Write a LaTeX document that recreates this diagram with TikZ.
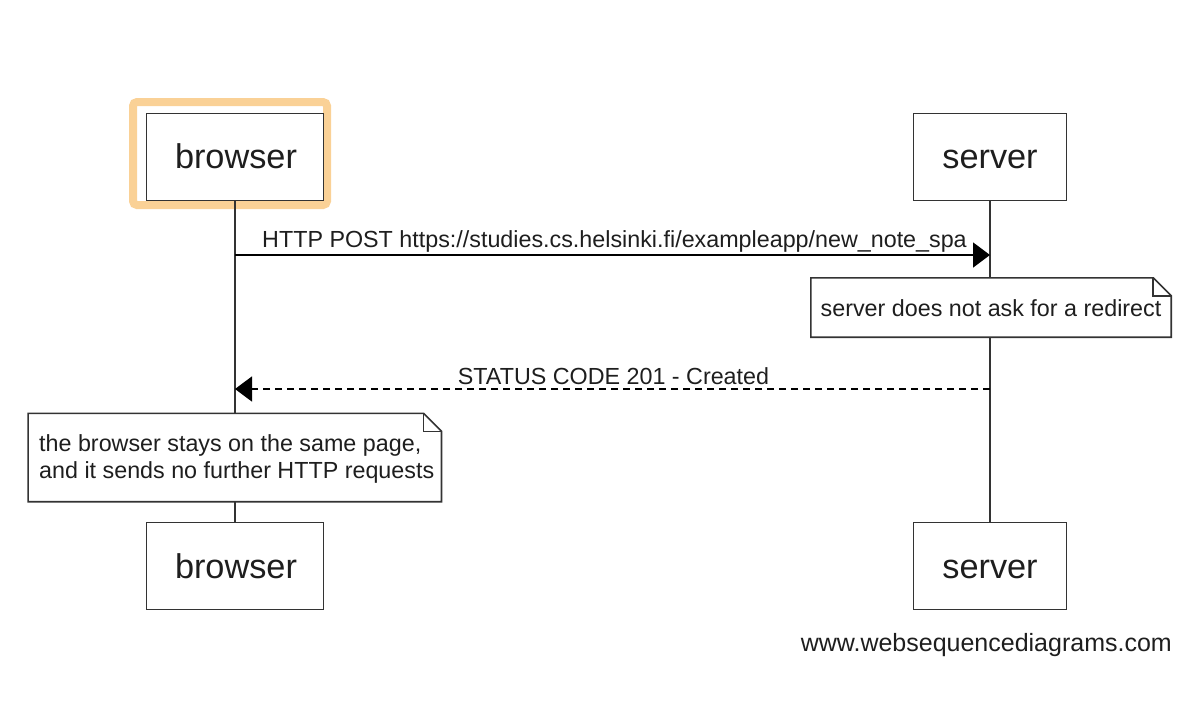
\documentclass[tikz,border=0pt]{standalone}
\usepackage{fontspec}
\setmainfont{Liberation Sans}
\usetikzlibrary{arrows.meta}
\definecolor{ln}{HTML}{333333}
\definecolor{tx}{HTML}{1E1E1E}
\definecolor{hl}{HTML}{FAD196}
\tikzset{
  actor/.style={draw=ln, line width=1.6pt, fill=white, inner sep=0pt, text=tx},
  actortext/.style={text=tx, font=\fontsize{34.3}{40}\selectfont, anchor=base, inner sep=0pt},
  lbl/.style={text=tx, font=\fontsize{23.3}{27}\selectfont, inner sep=0pt},
  life/.style={draw=ln, line width=1.6pt},
  msg/.style={draw=black, line width=1.5pt, -{Triangle[length=17pt,width=25pt]}},
  notebox/.style={inner sep=0pt},
  noteline/.style={draw=ln, line width=1.6pt, fill=white},
}
\begin{document}
\begin{tikzpicture}[x=1pt,y=-1pt]
\useasboundingbox (0,0) rectangle (1178,710);
% highlight
\draw[hl, line width=8pt, rounded corners=4pt] (133,102) rectangle (327,205);
% actor boxes
\node[actor, minimum width=177pt, minimum height=87pt] (bt) at (235,157) {};
\node[actor, minimum width=153pt, minimum height=87pt] (st) at (990,157) {};
\node[actor, minimum width=177pt, minimum height=87pt] (bb) at (235,566) {};
\node[actor, minimum width=153pt, minimum height=87pt] (sb) at (990,566) {};
\node[actortext] (btt) at (236,168) {browser};
\node[actortext] (stt) at (990,168) {server};
\node[actortext] (bbt) at (236,578) {browser};
\node[actortext] (sbt) at (990,578) {server};
% lifelines
\draw[life] (bt.south) -- (bb.north);
\draw[life] (st.south) -- (sb.north);
% message 1
\coordinate (m1a) at (235,255);
\coordinate (m1b) at (990,255);
\draw[msg] (m1a) -- (m1b);
\node[lbl, anchor=base] (m1l) at (614.5,247) {HTTP POST https://studies.cs.helsinki.fi/exampleapp/new\_note\_spa};
% note 1
\node[notebox, minimum width=360pt, minimum height=59pt] (n1) at (991,307.5) {};
\path[noteline] (n1.north west) -- ([xshift=-18pt]n1.north east) -- ([yshift=-18pt]n1.north east) -- (n1.south east) -- (n1.south west) -- cycle;
\draw[draw=ln, line width=1.6pt] ([xshift=-18pt]n1.north east) |- ([yshift=-18pt]n1.north east);
\node[lbl, anchor=base] (n1t) at (991,316) {server does not ask for a redirect};
% message 2
\coordinate (m2a) at (990,389);
\coordinate (m2b) at (235,389);
\draw[msg, dash pattern=on 7pt off 5pt] (m2a) -- (m2b);
\node[lbl, anchor=base] (m2l) at (613.5,384) {STATUS CODE 201 - Created};
% note 2
\node[notebox, minimum width=413pt, minimum height=88pt] (n2) at (234.75,457.5) {};
\path[noteline] (n2.north west) -- ([xshift=-18pt]n2.north east) -- ([yshift=-18pt]n2.north east) -- (n2.south east) -- (n2.south west) -- cycle;
\draw[draw=ln, line width=1.6pt] ([xshift=-18pt]n2.north east) |- ([yshift=-18pt]n2.north east);
\node[lbl, anchor=base west] (n2a) at (39,451) {the browser stays on the same page,};
\node[lbl, anchor=base west] (n2b) at (39,478) {and it sends no further HTTP requests};
% footer
\node[lbl, font=\fontsize{25}{30}\selectfont, anchor=base east] (ft) at (1172,651) {www.websequencediagrams.com};
\end{tikzpicture}
\end{document}
